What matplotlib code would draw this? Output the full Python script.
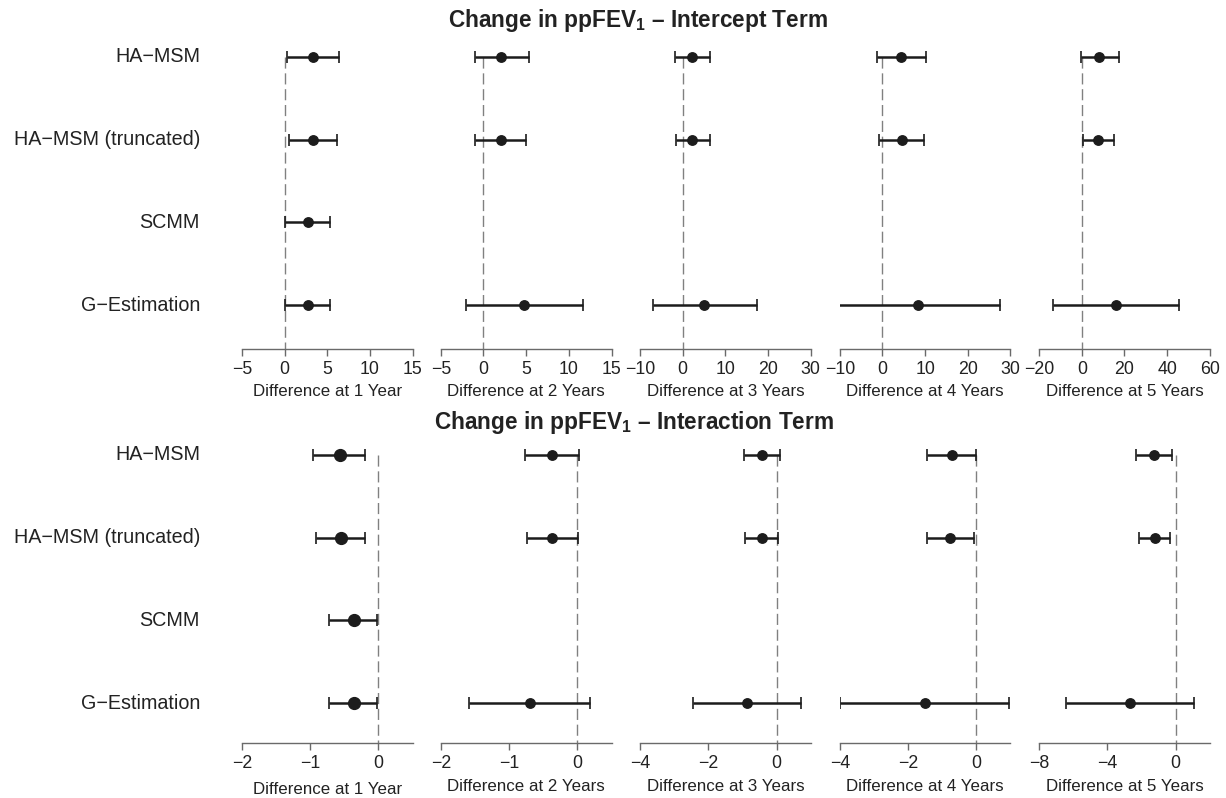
import numpy as np
import matplotlib
matplotlib.use("Agg")
import matplotlib.pyplot as plt

plt.rcParams["font.family"] = ["Liberation Sans", "DejaVu Sans"]
plt.rcParams["mathtext.fontset"] = "custom"
plt.rcParams["mathtext.rm"] = "Liberation Sans"
plt.rcParams["mathtext.bf"] = "Liberation Sans:bold"

nan = np.nan

methods = ["HA\u2212MSM", "HA\u2212MSM (truncated)", "SCMM", "G\u2212Estimation"]
xlabels_1 = ["Difference at 1 Year", "Difference at 2 Years", "Difference at 3 Years",
             "Difference at 4 Years", "Difference at 5 Years"]

# intercept term: one row per year, one value per method
icpt_est = [[3.3, 3.3, 2.7, 2.7],
            [2.1, 2.0, nan, 4.8],
            [2.3, 2.3, nan, 5.1],
            [4.4, 4.5, nan, 8.3],
            [8.2, 7.8, nan, 16.0]]
icpt_lo = [[0.3, 0.5, 0.05, 0.05],
           [-1.0, -1.0, nan, -2.0],
           [-1.7, -1.6, nan, -7.0],
           [-1.3, -0.8, nan, -10.7],
           [-0.5, 0.4, nan, -13.7]]
icpt_hi = [[6.4, 6.1, 5.3, 5.3],
           [5.3, 5.0, nan, 11.7],
           [6.5, 6.3, nan, 17.3],
           [10.1, 9.8, nan, 27.5],
           [17.3, 14.9, nan, 45.7]]
icpt_ticks = [[-5, 0, 5, 10, 15], [-5, 0, 5, 10, 15], [-10, 0, 10, 20, 30],
              [-10, 0, 10, 20, 30], [-20, 0, 20, 40, 60]]

# interaction term
intr_est = [[-0.57, -0.55, -0.365, -0.365],
            [-0.37, -0.365, nan, -0.70],
            [-0.42, -0.44, nan, -0.86],
            [-0.725, -0.76, nan, -1.51],
            [-1.28, -1.23, nan, -2.69]]
intr_lo = [[-0.96, -0.91, -0.725, -0.725],
           [-0.76, -0.74, nan, -1.59],
           [-0.94, -0.93, nan, -2.44],
           [-1.45, -1.44, nan, -4.0],
           [-2.35, -2.16, nan, -6.45]]
intr_hi = [[-0.19, -0.20, -0.02, -0.02],
           [0.02, 0.01, nan, 0.19],
           [0.09, 0.05, nan, 0.72],
           [-0.02, -0.07, nan, 0.97],
           [-0.2, -0.34, nan, 1.09]]
intr_ticks = [[-2, -1, 0], [-2, -1, 0], [-4, -2, 0], [-4, -2, 0], [-8, -4, 0]]
intr_xmax = [0.5, 0.5, 1, 1, 2]

W, H = 1226, 798
fig = plt.figure(figsize=(W / 100, H / 100), dpi=100)

ink = "#1c1c1c"
panel_left = [241.9, 440.8, 640.0, 839.8, 1039.1]
panel_w = 170.7


def draw_row(top_px, bottom_px, row1_px, step_px, est, lo, hi, ticks, xmax, big_first, lpads):
    y_top = 1 - (row1_px - top_px) / step_px
    y_bot = 1 + (bottom_px - row1_px) / step_px
    rows = np.arange(1, len(methods) + 1)
    for k in range(5):
        ax = fig.add_axes([panel_left[k] / W, 1 - bottom_px / H, panel_w / W, (bottom_px - top_px) / H])
        ax.set_ylim(y_bot, y_top)
        x0 = ticks[k][0]
        x1 = xmax[k] if xmax is not None else ticks[k][-1]
        ax.set_xlim(x0, x1)
        ax.vlines(0, 1, y_bot, colors="#808080", linewidth=1.0,
                  linestyles=(0, (8, 3.4)), zorder=1)
        e = np.array(est[k]); l = np.array(lo[k]); h = np.array(hi[k])
        ok = ~np.isnan(e)
        ms = 8.5 if (big_first and k == 0) else 6.8
        ax.errorbar(e[ok], rows[ok], xerr=[e[ok] - l[ok], h[ok] - e[ok]], fmt="o",
                    color=ink, ecolor=ink, markersize=ms, elinewidth=1.8,
                    capsize=4.2, capthick=1.2, zorder=3)
        for s in ["top", "left", "right"]:
            ax.spines[s].set_visible(False)
        ax.spines["bottom"].set_color("#6a6a6a")
        ax.spines["bottom"].set_linewidth(1.0)
        ax.set_yticks([])
        ax.set_xticks(ticks[k])
        ax.tick_params(axis="x", length=5, width=1.0, color="#6a6a6a",
                       labelsize=12.8, labelcolor="#222222", pad=3.5)
        ax.set_xlabel(xlabels_1[k], fontsize=12.2, color="#222222", labelpad=lpads[k])
        ax.patch.set_alpha(0)
    for i, m in enumerate(methods):
        fig.text(200 / W, 1 - (row1_px + i * step_px) / H, m, ha="right", va="center",
                 fontsize=14.2, color="#222222")


draw_row(30, 349, 56.7, 82.8, icpt_est, icpt_lo, icpt_hi, icpt_ticks, None, False, [4.5] * 5)
draw_row(436, 743, 454.7, 82.8, intr_est, intr_lo, intr_hi, intr_ticks, intr_xmax, True,
         [7, 5, 5, 5, 5])

dash = "\u2013"
fig.text(638 / W, 1 - 21 / H, r"Change in ppFEV$_\mathbf{1}$ " + dash + " Intercept Term",
         ha="center", va="center", fontsize=16.3, fontweight="bold", color="#222222")
fig.text(634 / W, 1 - 422 / H, r"Change in ppFEV$_\mathbf{1}$ " + dash + " Interaction Term",
         ha="center", va="center", fontsize=16.3, fontweight="bold", color="#222222")

fig.savefig("out.png", dpi=100)
